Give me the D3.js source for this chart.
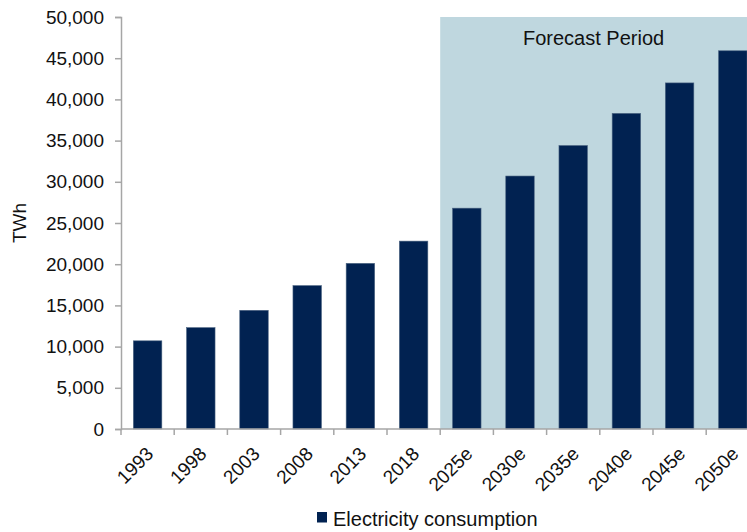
<!DOCTYPE html>
<html>
<head>
<meta charset="utf-8">
<script src="https://cdn.jsdelivr.net/npm/d3@7/dist/d3.min.js"></script>
<style>
  html, body { margin: 0; padding: 0; background: #fff; }
  svg { display: block; font-family: "Liberation Sans", Arial, sans-serif; }
</style>
</head>
<body>
<svg id="chart" width="747" height="532"></svg>
<script>
// Electricity consumption, historic and forecast (TWh)
const categories = ["1993", "1998", "2003", "2008", "2013", "2018",
                    "2025e", "2030e", "2035e", "2040e", "2045e", "2050e"];
const consumption = [10700, 12300, 14400, 17400, 20100, 22800,
                     26800, 30700, 34400, 38300, 42000, 45900];
const forecastStart = "2025e";
const yTicks = [0, 5000, 10000, 15000, 20000, 25000, 30000, 35000, 40000, 45000, 50000];
const seriesName = "Electricity consumption";
const yTitle = "TWh";
const forecastLabel = "Forecast Period";

const W = 747, H = 532;
const plotLeft = 121, plotTop = 17, plotBottom = 429;
const step = 53.2;
const plotRight = plotLeft + step * categories.length;

const navy = "#012251";
const shade = "#BFD7DF";
const axisGrey = "#A6A6A6";
const textCol = "#111";

const svg = d3.select("#chart");

const x = d3.scaleBand()
  .domain(categories)
  .range([plotLeft, plotRight])
  .paddingInner(0.465)
  .paddingOuter(0.2325);

const y = d3.scaleLinear().domain([0, 50000]).range([plotBottom, plotTop]);

// forecast shading, starting at the boundary of the first forecast category
const shadeX = x(forecastStart) - x.step() * x.paddingInner() / 2;
svg.append("rect")
  .attr("x", shadeX)
  .attr("y", y(50000))
  .attr("width", W - shadeX)
  .attr("height", y(0) - y(50000))
  .attr("fill", shade);

svg.append("text")
  .attr("x", (shadeX + W) / 2)
  .attr("y", 45)
  .attr("text-anchor", "middle")
  .attr("font-size", 20)
  .attr("fill", textCol)
  .text(forecastLabel);

// bars
svg.append("g").selectAll("rect")
  .data(categories.map((c, i) => ({ c, v: consumption[i] })))
  .join("rect")
  .attr("x", d => x(d.c))
  .attr("y", d => y(d.v))
  .attr("width", x.bandwidth())
  .attr("height", d => y(0) - y(d.v))
  .attr("fill", navy)
  .attr("stroke", "#4a6280")
  .attr("stroke-width", 0.6);

// y axis
const yAxis = d3.axisLeft(y)
  .tickValues(yTicks)
  .tickSize(6)
  .tickPadding(11)
  .tickFormat(d3.format(","));
const gy = svg.append("g").attr("transform", `translate(${plotLeft},0)`).call(yAxis);
gy.select(".domain").attr("stroke", axisGrey).attr("stroke-width", 1.5);
gy.selectAll(".tick line").attr("stroke", axisGrey).attr("stroke-width", 1.5);
gy.selectAll(".tick text")
  .attr("font-size", 19)
  .attr("fill", textCol)
  .attr("font-family", "Liberation Sans, Arial, sans-serif");

// x axis: baseline with ticks at category boundaries
const boundaries = d3.range(categories.length + 1).map(i => plotLeft + i * x.step());
const gx = svg.append("g");
gx.append("line")
  .attr("x1", plotLeft).attr("x2", plotRight)
  .attr("y1", plotBottom).attr("y2", plotBottom)
  .attr("stroke", axisGrey).attr("stroke-width", 1.5);
gx.selectAll("line.tick")
  .data(boundaries)
  .join("line")
  .attr("class", "tick")
  .attr("x1", d => d).attr("x2", d => d)
  .attr("y1", plotBottom).attr("y2", plotBottom + 6)
  .attr("stroke", axisGrey).attr("stroke-width", 1.5);
gx.selectAll("text")
  .data(categories)
  .join("text")
  .attr("transform", d => `translate(${x(d) + x.bandwidth() / 2 + 7},${plotBottom + 26}) rotate(-45)`)
  .attr("text-anchor", "end")
  .attr("font-size", 19)
  .attr("fill", textCol)
  .text(d => d);

// y axis title
svg.append("text")
  .attr("transform", `translate(26,${(plotTop + plotBottom) / 2}) rotate(-90)`)
  .attr("text-anchor", "middle")
  .attr("font-size", 19)
  .attr("fill", textCol)
  .text(yTitle);

// legend
const lg = svg.append("g");
lg.append("rect")
  .attr("x", 317).attr("y", 512)
  .attr("width", 10).attr("height", 10.5)
  .attr("fill", navy);
lg.append("text")
  .attr("x", 333).attr("y", 526)
  .attr("font-size", 20)
  .attr("fill", textCol)
  .text(seriesName);
</script>
</body>
</html>
